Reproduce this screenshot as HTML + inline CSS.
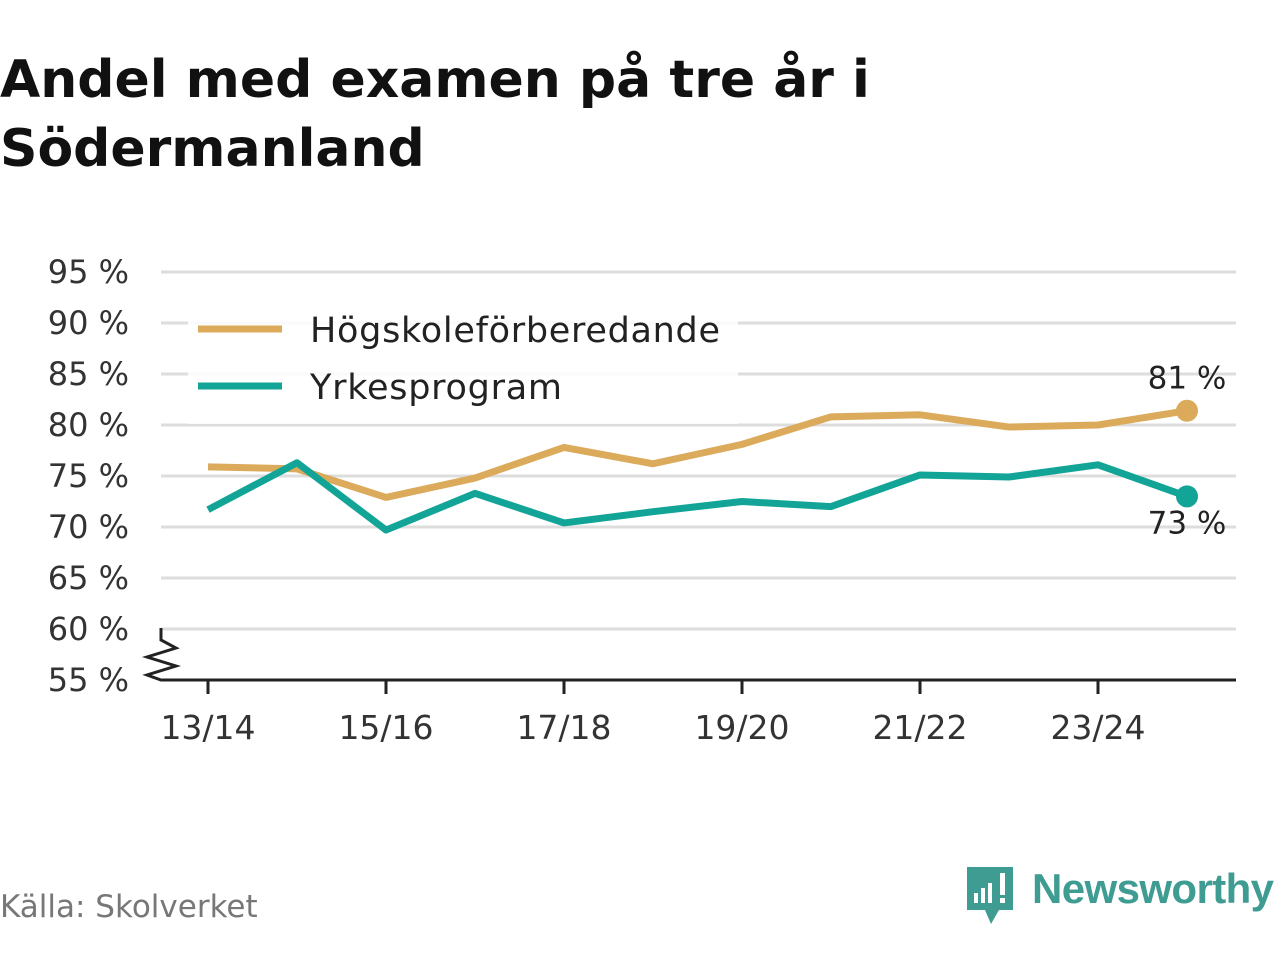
<!DOCTYPE html>
<html><head><meta charset="utf-8"><style>
body{margin:0;width:1280px;height:960px;background:#fff;font-family:"Open Sans","DejaVu Sans","Liberation Sans",sans-serif;overflow:hidden}
</style></head><body>
<svg width="1280" height="960" xmlns="http://www.w3.org/2000/svg">
<g font-family="'DejaVu Sans','Liberation Sans',sans-serif" font-weight="bold" font-size="52" fill="#111">
<text x="0" y="97">Andel med examen på tre år i</text>
<text x="0" y="166">Södermanland</text>
</g>
<g id="grid"></g>
<g id="ylab" font-family="'DejaVu Sans','Liberation Sans',sans-serif" font-size="32" fill="#333" text-anchor="end"></g>
<path d="M161 628 V640 L176 648 L147 657 L176 666 L147 675 L161 680 H1236" stroke="#222" stroke-width="3" fill="none"/>
<g id="xlab" font-family="'DejaVu Sans','Liberation Sans',sans-serif" font-size="33" fill="#333" text-anchor="middle"></g>
<g>
<rect x="188" y="302" width="550" height="122" fill="#fff" fill-opacity="0.85"/>
<line x1="198" y1="329" x2="282" y2="329" stroke="#dbaa5b" stroke-width="7"/>
<text x="310" y="342" font-size="35" fill="#222" font-family="'DejaVu Sans','Liberation Sans',sans-serif" textLength="410">Högskoleförberedande</text>
<line x1="198" y1="386" x2="282" y2="386" stroke="#12a597" stroke-width="7"/>
<text x="310" y="399" font-size="35" fill="#222" font-family="'DejaVu Sans','Liberation Sans',sans-serif" textLength="252">Yrkesprogram</text>
</g>
<g id="series"></g>
<text x="0" y="917" font-size="31" fill="#777" font-family="'DejaVu Sans','Liberation Sans',sans-serif">Källa: Skolverket</text>
<g>
<path d="M967 867 H1013 V910 H999 L991 924 L985 910 H967 Z" fill="#3f9c92"/>
<rect x="974" y="893" width="4" height="10" fill="#fff"/><rect x="981" y="888" width="4" height="15" fill="#fff"/><rect x="988" y="883" width="4" height="20" fill="#fff"/><rect x="1000" y="873" width="5" height="22" fill="#fff"/><rect x="1000" y="898" width="5" height="5" fill="#fff"/>
<text x="1032" y="903" font-size="42" font-weight="bold" fill="#3f9c92" font-family="'Liberation Sans','DejaVu Sans',sans-serif" textLength="242">Newsworthy</text>
</g>
</svg>
<script>
const categories=["13/14","14/15","15/16","16/17","17/18","18/19","19/20","20/21","21/22","22/23","23/24","24/25"];
const hogskole=[75.9,75.7,72.9,74.8,77.8,76.2,78.1,80.8,81.0,79.8,80.0,81.4];
const yrkes=[71.7,76.3,69.7,73.3,70.4,71.5,72.5,72.0,75.1,74.9,76.1,73.0];
const yTicks=[55,60,65,70,75,80,85,90,95];
const xTickLabels=["13/14","15/16","17/18","19/20","21/22","23/24"];
const NS="http://www.w3.org/2000/svg";
const x=i=>208+i*89, y=v=>680-(v-55)*10.2;
function mk(t,a,p){const e=document.createElementNS(NS,t);for(const k in a)e.setAttribute(k,a[k]);p.appendChild(e);return e;}
const grid=document.getElementById('grid'),ylab=document.getElementById('ylab'),xlab=document.getElementById('xlab'),ser=document.getElementById('series');
yTicks.forEach(v=>{
 if(v>55){const l=mk('line',{x1:161,x2:1236,y1:y(v),y2:y(v),stroke:'#ddd','stroke-width':3},grid);
 
 }
 const t=mk('text',{x:129,y:y(v)+11},ylab);t.textContent=v+' %';
 
 
});
xTickLabels.forEach(c=>{const i=categories.indexOf(c);
 const tk=mk('line',{x1:x(i),x2:x(i),y1:680,y2:694,stroke:'#222','stroke-width':3},xlab);
 
 
 const t=mk('text',{x:x(i),y:739},xlab);t.textContent=c;
 
 
});
[[hogskole,'#dbaa5b','hogskole',-22],[yrkes,'#12a597','yrkes',37]].forEach(([d,c,n,dy])=>{
 const p=mk('polyline',{points:d.map((v,i)=>x(i)+','+y(v)).join(' '),fill:'none',stroke:c,'stroke-width':7,'stroke-linejoin':'round'},ser);
 
 
 const L=d.length-1;
 const dot=mk('circle',{cx:x(L),cy:y(d[L]),r:11,fill:c},ser);
 
 
 const t=mk('text',{x:x(L),y:y(d[L])+dy,'text-anchor':'middle','font-size':31,fill:'#222','font-family':"'DejaVu Sans','Liberation Sans',sans-serif"},ser);
 t.textContent=Math.round(d[L])+' %';
 
 
});
</script>
</body></html>
